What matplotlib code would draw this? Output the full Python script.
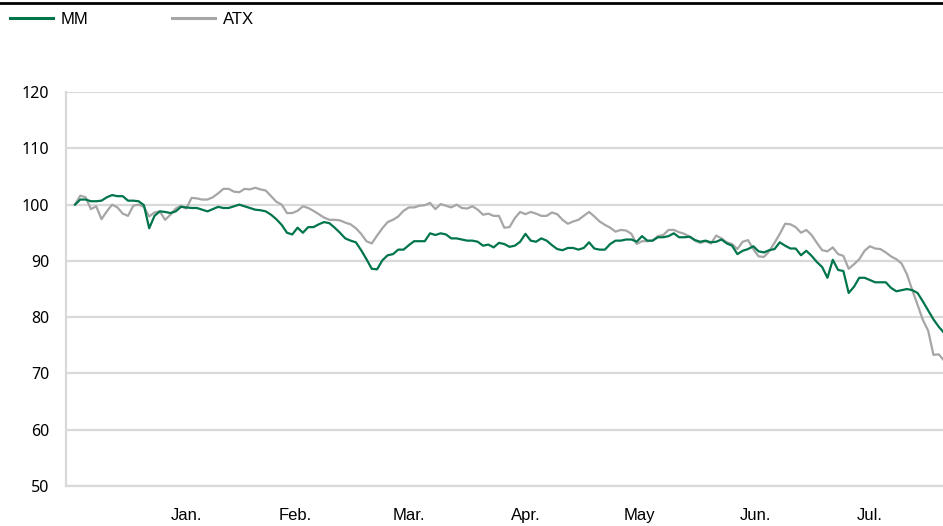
import numpy as np
import pandas as pd
import matplotlib
matplotlib.use("Agg")
import matplotlib.pyplot as plt
from matplotlib.lines import Line2D

# indexed performance (start = 100), one value per trading day
mm = [
    100.0, 100.9, 100.9, 100.6, 100.6, 100.7, 101.3, 101.7, 101.5, 101.5,
    100.7, 100.7, 100.6, 99.9, 95.8, 98.0, 98.8, 98.7, 98.5, 98.8,
    99.6, 99.5, 99.4, 99.4, 99.1, 98.8, 99.2, 99.6, 99.4, 99.4,
    99.7, 100.0, 99.7, 99.4, 99.1, 99.0, 98.8, 98.2, 97.4, 96.4,
    95.0, 94.7, 95.9, 95.0, 96.0, 96.0, 96.5, 96.9, 96.7, 95.9,
    95.0, 94.0, 93.6, 93.3, 91.9, 90.3, 88.6, 88.5, 90.1, 91.0,
    91.2, 92.0, 92.0, 92.8, 93.5, 93.5, 93.5, 94.9, 94.6, 94.9,
    94.7, 94.0, 94.0, 93.8, 93.6, 93.6, 93.4, 92.7, 92.9, 92.4,
    93.2, 93.0, 92.5, 92.7, 93.4, 94.8, 93.6, 93.4, 94.0, 93.6,
    92.8, 92.1, 91.9, 92.3, 92.3, 92.0, 92.3, 93.3, 92.2, 92.0,
    92.0, 93.0, 93.6, 93.6, 93.8, 93.8, 93.4, 94.4, 93.6, 93.6,
    94.2, 94.2, 94.4, 94.9, 94.2, 94.2, 94.3, 93.7, 93.4, 93.6,
    93.3, 93.4, 93.8, 93.1, 92.7, 91.2, 91.8, 92.1, 92.6, 91.7,
    91.5, 91.9, 92.1, 93.3, 92.7, 92.2, 92.2, 91.0, 91.8, 90.9,
    89.8, 88.9, 87.0, 90.2, 88.4, 88.2, 84.3, 85.4, 87.0, 87.0,
    86.6, 86.2, 86.2, 86.2, 85.2, 84.6, 84.8, 85.0, 84.8, 84.3,
    82.8, 81.2, 79.6, 78.3, 77.2,
]
atx = [
    100.0, 101.6, 101.3, 99.2, 99.7, 97.4, 98.8, 100.0, 99.5, 98.4,
    98.0, 99.8, 100.0, 99.6, 97.9, 98.6, 98.8, 97.3, 98.2, 99.3,
    99.8, 99.3, 101.2, 101.1, 100.9, 100.9, 101.3, 102.0, 102.8, 102.8,
    102.3, 102.2, 102.8, 102.7, 103.0, 102.7, 102.5, 101.5, 100.5, 100.0,
    98.5, 98.5, 98.9, 99.7, 99.4, 98.9, 98.3, 97.7, 97.3, 97.3,
    97.2, 96.8, 96.5, 95.8, 94.8, 93.5, 93.1, 94.5, 95.8, 96.9,
    97.3, 97.9, 98.9, 99.5, 99.5, 99.8, 99.9, 100.3, 99.2, 100.1,
    99.8, 99.5, 100.0, 99.4, 99.3, 99.7, 99.1, 98.2, 98.4, 98.0,
    98.0, 95.9, 96.0, 97.6, 98.7, 98.3, 98.7, 98.4, 98.0, 98.0,
    98.6, 98.3, 97.3, 96.6, 97.0, 97.3, 98.0, 98.7, 97.9, 97.0,
    96.4, 95.9, 95.2, 95.5, 95.4, 94.8, 93.0, 93.5, 93.5, 93.6,
    94.4, 94.6, 95.5, 95.5, 95.1, 94.8, 94.3, 93.6, 93.2, 93.5,
    93.1, 94.5, 94.0, 93.3, 93.0, 92.1, 93.4, 93.7, 92.1, 90.8,
    90.7, 91.7, 93.2, 94.8, 96.6, 96.5, 96.0, 95.0, 95.5, 94.6,
    93.2, 91.9, 91.7, 92.4, 91.2, 90.9, 88.6, 89.4, 90.3, 91.8,
    92.6, 92.2, 92.1, 91.5, 90.8, 90.3, 89.5, 87.6, 84.8, 82.2,
    79.5, 77.6, 73.3, 73.4, 72.3,
]
month_labels = ["Jan.", "Feb.", "Mar.", "Apr.", "May", "Jun.", "Jul."]
y_ticks = [50, 60, 70, 80, 90, 100, 110, 120]

GREEN = "#00754a"
GREY = "#a6a6a6"
GRID = "#d9d9d9"

plt.rcParams['font.family'] = ['Liberation Sans', 'DejaVu Sans']

dates = pd.bdate_range("2021-12-17", periods=len(mm))
x = np.arange(len(mm))

# label each month in the middle of its trading days
pos = pd.Series(x).groupby(dates.to_period("M")).mean()
pos = pos[(pos.index >= pd.Period("2022-01")) & (pos.index <= pd.Period("2022-07"))]

fig = plt.figure(figsize=(9.43, 5.26), dpi=100)
ax = fig.add_axes([0.070, 0.076, 0.930, 0.749])

ax.plot(x, atx, color=GREY, lw=1.6, label="ATX", zorder=3)
ax.plot(x, mm, color=GREEN, lw=1.6, label="MM", zorder=4)

ax.set_ylim(50, 120)
ax.set_xlim(-1.7, 163.8)
ax.set_yticks(y_ticks)
ax.set_xticks(pos.values)
ax.set_xticklabels(month_labels)
ax.grid(axis='y', color=GRID, lw=1.6)
ax.set_axisbelow(True)
for s in ['top', 'right']:
    ax.spines[s].set_visible(False)
ax.spines['left'].set_color(GRID)
ax.spines['left'].set_linewidth(1.6)
ax.spines['bottom'].set_color(GRID)
ax.spines['bottom'].set_linewidth(1.6)
ax.tick_params(axis='both', length=0, labelsize=12, colors='black')
ax.tick_params(axis='x', pad=16)
ax.tick_params(axis='y', pad=12)
for lab in ax.get_yticklabels():
    lab.set_family(['Noto Sans', 'DejaVu Sans'])
    lab.set_fontsize(11.5)

# thin black rule at the very top
fig.add_artist(Line2D([0, 1], [0.994, 0.994], color='black', lw=2,
                      transform=fig.transFigure))

handles = [Line2D([], [], color=GREEN, lw=2.2), Line2D([], [], color=GREY, lw=2.2)]
fig.legend(handles, ["MM", "ATX"], loc='upper left', bbox_to_anchor=(-0.002, 0.999),
           ncol=2, frameon=False, fontsize=12, handlelength=2.6,
           handletextpad=0.45, columnspacing=5.0, borderaxespad=0.3)

fig.savefig("out.png", dpi=100)
